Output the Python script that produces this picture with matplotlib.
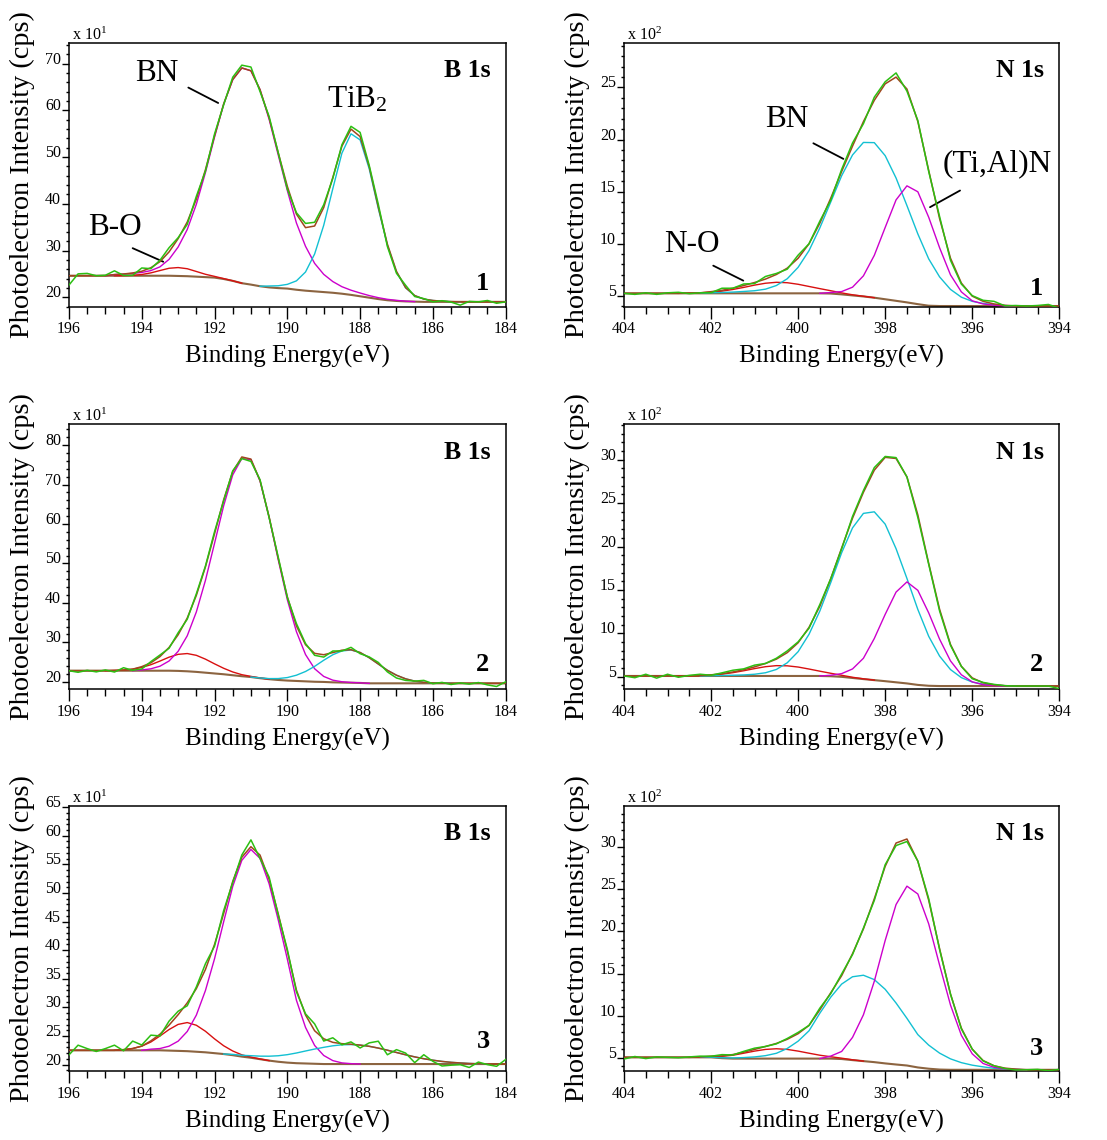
import numpy as np
import matplotlib
matplotlib.use("Agg")
import matplotlib.pyplot as plt
from matplotlib.ticker import MultipleLocator

plt.rcParams["font.family"] = "Liberation Serif"
plt.rcParams["mathtext.fontset"] = "custom"
plt.rcParams["mathtext.rm"] = "Liberation Serif"
plt.rcParams["mathtext.it"] = "Liberation Serif:italic"
plt.rcParams["mathtext.bf"] = "Liberation Serif:bold"

# binding energy sampling (eV), 0.25 eV steps
b_energy = np.linspace(196, 184, 49)
n_energy = np.linspace(404, 394, 41)

# ---------------- B 1s, sample 1 (x10 cps) ----------------
b1_bg = [24.6] * 12 + [24.55, 24.5, 24.4, 24.3, 24.2, 23.9, 23.5, 23.0, 22.7, 22.35, 22.1, 21.95,
                       21.85, 21.6, 21.4, 21.25, 21.1, 20.95, 20.75, 20.5, 20.2, 19.9, 19.6, 19.35,
                       19.2, 19.1, 19.05, 19.0] + [19.0] * 9
b1_bo = [0] * 6 + [0.02, 0.09, 0.26, 0.61, 1.11, 1.6, 1.8, 1.6, 1.11, 0.61, 0.26, 0.09, 0.02] + [0] * 30
b1_bn = [0] * 5 + [0.25, 0.35, 0.5, 0.7, 1.1, 1.9, 3.5, 6.2, 10.0, 15.5, 22.4, 30.1, 37.4, 43.1,
                   46.1, 45.8, 42.1, 36.0, 28.5, 21.0, 14.3, 9.5, 6.0, 3.8, 2.4, 1.5, 1.0, 0.7,
                   0.45, 0.3, 0.2, 0.12, 0.06] + [0] * 11
b1_tib2 = [0] * 22 + [0.3, 0.5, 0.9, 1.9, 4.0, 8.0, 14.3, 22.3, 30.1, 34.5, 33.5, 27.6, 19.4,
                      11.8, 6.2, 2.9, 1.3, 0.6, 0.3, 0.15, 0.05] + [0] * 6
b1_resid = [-2.0, 0.4, 0.5, 0.0, 0.1, 0.8, -0.3, -0.5, 0.7, -0.2, 0.3, 0.9, 0.2, -0.5, 0.6, -0.3,
            0.4, -0.2, 0.5, 0.6, 0.8, -0.4, 0.3, 0.0, -0.6, 0.3, 0.9, 0.8, 0.6, -0.2, 0.3, 0.6,
            0.9, 0.3, 0.6, -0.5, -0.4, 0.5, -0.2, 0.1, -0.3, 0.1, -0.1, -0.7, 0.1, 0.0, 0.3, -0.3, 0.0]

# ---------------- B 1s, sample 2 ----------------
b2_bg = [22.8] * 12 + [22.75, 22.65, 22.5, 22.3, 22.1, 21.9, 21.65, 21.4, 21.2, 20.9, 20.65, 20.45,
                       20.3, 20.2, 20.1, 20.0, 19.95, 19.85, 19.8, 19.75, 19.7] + [19.6] * 16
b2_bo = [0] * 5 + [0.06, 0.16, 0.39, 0.83, 1.52, 2.44, 3.43, 4.2, 4.5, 4.2, 3.43, 2.44, 1.52, 0.83,
                   0.39, 0.16, 0.06] + [0] * 27
b2_bn = [0] * 8 + [0.2, 0.48, 1.14, 2.46, 4.97, 9.0, 15.2, 23.4, 33.0, 42.7, 50.8, 55.2, 55.1, 50.0,
                   41.0, 30.5, 20.5, 12.5, 6.8, 3.3, 1.4, 0.55, 0.2, 0.07, 0.02] + [0] * 16
b2_tib2 = [0] * 21 + [0.06, 0.15, 0.36, 0.76, 1.46, 2.5, 3.9, 5.5, 7.0, 8.0, 8.3, 7.7, 6.5, 4.9,
                      3.3, 2.05, 1.14, 0.56, 0.25, 0.1, 0.04] + [0] * 7
b2_resid = [0.0, -0.4, 0.1, -0.3, 0.2, -0.4, 0.6, -0.3, -0.6, 0.3, 0.4, -0.2, 0.5, -0.3, 0.4, 0.2,
            0.5, -0.3, 0.2, -0.4, -0.6, 0.2, -0.2, 0.3, -0.2, 0.6, 0.3, -0.5, -0.6, 0.4, -0.2, 0.6,
            -0.3, 0.2, 0.4, -0.4, -0.7, -0.4, 0.0, 0.5, -0.2, 0.2, -0.3, 0.1, -0.2, 0.2, -0.4, -0.8, 0.4]

# ---------------- B 1s, sample 3 ----------------
b3_bg = [22.5] * 11 + [22.45, 22.4, 22.35, 22.25, 22.15, 22.0, 21.85, 21.65, 21.4, 21.2, 20.95,
                       20.7, 20.5, 20.35, 20.25, 20.2, 20.15] + [20.1] * 21
b3_bo = [0] * 6 + [0.12, 0.31, 0.73, 1.45, 2.5, 3.68, 4.63, 5.0, 4.63, 3.68, 2.5, 1.45, 0.73, 0.31,
                   0.12, 0.04] + [0] * 27
b3_bn = [0] * 9 + [0.2, 0.31, 0.77, 1.7, 3.44, 6.4, 10.8, 16.5, 23.1, 29.5, 34.3, 36.4, 35.1, 30.9,
                   24.8, 18.1, 11.0, 6.3, 3.2, 1.5, 0.6, 0.2, 0.07] + [0] * 17
b3_tib2 = [0] * 18 + [0.14, 0.23, 0.36, 0.53, 0.77, 1.05, 1.39, 1.78, 2.18, 2.57, 2.92, 3.19, 3.36,
                      3.4, 3.31, 3.1, 2.79, 2.42, 2.02, 1.62, 1.25, 0.93, 0.67, 0.46, 0.3, 0.19,
                      0.1, 0.05] + [0] * 3
b3_resid = [-0.8, 0.9, 0.3, -0.2, 0.3, 0.9, -0.2, 1.3, 0.2, 1.0, -0.3, 0.7, 0.6, -0.5, 0.3, 1.0,
            -0.3, 0.5, -0.2, 0.4, 1.2, -0.6, 0.4, -0.2, 0.3, -0.3, 0.2, 1.2, -0.4, 0.8, -0.2, 0.4,
            -0.5, 0.6, 1.2, -0.8, 0.5, 0.3, -1.0, 0.7, -0.2, -0.8, -0.5, -0.3, -0.7, 0.3, -0.1, -0.4, 0.8]

# ---------------- N 1s, sample 1 (x100 cps) ----------------
n1_bg = [5.22] * 19 + [5.2, 5.12, 5.02, 4.92, 4.8, 4.65, 4.5, 4.35, 4.18, 4.03] + [4.0] * 12
n1_no = [0] * 6 + [0.02, 0.05, 0.11, 0.21, 0.37, 0.57, 0.79, 0.97, 1.06, 1.02, 0.87, 0.66, 0.45,
                   0.27, 0.14, 0.06, 0.02] + [0] * 18
n1_bn = [0] * 8 + [0.05, 0.08, 0.12, 0.18, 0.25, 0.4, 0.75, 1.4, 2.5, 4.1, 6.3, 8.8, 11.4, 13.5,
                   14.8, 14.9, 13.8, 11.8, 9.3, 6.75, 4.5, 2.8, 1.6, 0.85, 0.45, 0.25, 0.12, 0.05] + [0] * 5
n1_tialn = [0] * 19 + [0.1, 0.27, 0.79, 1.98, 4.07, 6.9, 9.7, 11.2, 10.8, 8.5, 5.6, 3.0, 1.36, 0.5,
                       0.2, 0.08, 0.02] + [0] * 5
n1_resid = [0.0, -0.1, 0.05, -0.1, 0.05, 0.1, -0.05, 0.0, -0.1, 0.2, 0.0, 0.15, -0.1, 0.25, 0.1,
            -0.1, 0.3, 0.0, 0.2, -0.2, 0.2, 0.3, -0.2, 0.3, 0.2, 0.4, -0.2, 0.1, -0.1, 0.2, -0.2,
            -0.1, 0.05, 0.1, 0.25, -0.05, 0.05, 0.0, 0.05, 0.15, -0.2]

# ---------------- N 1s, sample 2 ----------------
n2_bg = [5.08] * 19 + [5.05, 4.98, 4.85, 4.72, 4.6, 4.48, 4.35, 4.22, 4.05, 3.95] + [3.92] * 12
n2_no = [0] * 6 + [0.02, 0.05, 0.1, 0.21, 0.38, 0.6, 0.85, 1.07, 1.19, 1.17, 1.03, 0.8, 0.55, 0.34,
                   0.18, 0.08, 0.03] + [0] * 18
n2_bn = [0] * 8 + [0.03, 0.05, 0.08, 0.12, 0.2, 0.37, 0.75, 1.52, 2.8, 4.8, 7.5, 10.8, 14.3, 17.3,
                   19.1, 19.4, 18.1, 15.4, 12.1, 8.7, 5.7, 3.45, 1.9, 0.97, 0.46, 0.22, 0.1, 0.04] + [0] * 5
n2_tialn = [0] * 19 + [0.11, 0.37, 1.04, 2.4, 4.8, 7.7, 10.4, 11.7, 10.9, 8.4, 5.4, 2.9, 1.3, 0.48,
                       0.15, 0.04] + [0] * 6
n2_resid = [0.0, -0.2, 0.2, -0.25, 0.2, -0.15, 0.05, 0.15, -0.05, 0.1, 0.2, 0.1, 0.2, 0.0, 0.1,
            0.2, 0.1, -0.1, 0.2, 0.0, -0.1, 0.2, 0.2, 0.3, 0.1, 0.1, 0.0, -0.3, -0.1, -0.2, -0.1,
            0.0, -0.1, 0.05, 0.05, 0.0, 0.0, 0.0, 0.0, 0.0, -0.3]

# ---------------- N 1s, sample 3 ----------------
n3_bg = [5.05] * 9 + [4.95] + [4.9] * 10 + [4.85, 4.72, 4.6, 4.48, 4.33, 4.2, 4.08, 3.85, 3.7,
                                            3.6] + [3.57] * 11
n3_no = [0] * 7 + [0.04, 0.1, 0.22, 0.4, 0.64, 0.89, 1.09, 1.17, 1.09, 0.89, 0.64, 0.4, 0.22, 0.1,
                   0.04] + [0] * 19
n3_bn = [0] * 8 + [0.03, 0.05, 0.08, 0.12, 0.2, 0.35, 0.63, 1.2, 2.07, 3.3, 5.4, 7.3, 8.9, 9.9,
                   10.2, 9.8, 8.8, 7.3, 5.6, 3.9, 2.8, 1.95, 1.3, 0.85, 0.55, 0.35, 0.18, 0.1, 0.05] + [0] * 4
n3_tialn = [0] * 19 + [0.3, 0.9, 2.7, 5.5, 9.6, 14.6, 19.0, 21.3, 20.6, 17.2, 12.4, 7.7, 4.1, 1.9,
                       0.75, 0.3, 0.1, 0.03] + [0] * 4
n3_resid = [-0.2, 0.1, -0.15, 0.05, 0.0, -0.05, 0.05, 0.1, 0.0, 0.15, -0.05, 0.1, 0.15, 0.0, -0.05,
            0.1, 0.15, 0.0, 0.2, -0.1, 0.2, -0.1, 0.1, -0.2, 0.2, -0.3, -0.3, 0.0, 0.2, -0.1, 0.0,
            -0.1, 0.0, -0.05, 0.0, -0.05, -0.1, 0.0, 0.05, -0.1, 0.05]

GREEN = "#2cbf12"
BROWN = "#a0461e"
BG_COLOR = "#8c6440"
RED = "#d81010"
MAGENTA = "#cc00cc"
CYAN = "#12c0d2"

panels = [
    dict(energy=b_energy, bg=b1_bg, comps=[(b1_bo, RED), (b1_bn, MAGENTA), (b1_tib2, CYAN)],
         resid=b1_resid, ylim=(18.0, 74.5), yticks=[20, 30, 40, 50, 60, 70], yminor=2,
         title="B 1s", sample="1", exp=1, sample_y=0.088),
    dict(energy=n_energy, bg=n1_bg, comps=[(n1_no, RED), (n1_bn, CYAN), (n1_tialn, MAGENTA)],
         resid=n1_resid, ylim=(3.95, 29.3), yticks=[5, 10, 15, 20, 25], yminor=1,
         title="N 1s", sample="1", exp=2, sample_y=0.068),
    dict(energy=b_energy, bg=b2_bg, comps=[(b2_bo, RED), (b2_bn, MAGENTA), (b2_tib2, CYAN)],
         resid=b2_resid, ylim=(18.1, 85.3), yticks=[20, 30, 40, 50, 60, 70, 80], yminor=2,
         title="B 1s", sample="2", exp=1, sample_y=0.092),
    dict(energy=n_energy, bg=n2_bg, comps=[(n2_no, RED), (n2_bn, CYAN), (n2_tialn, MAGENTA)],
         resid=n2_resid, ylim=(3.55, 34.1), yticks=[5, 10, 15, 20, 25, 30], yminor=1,
         title="N 1s", sample="2", exp=2, sample_y=0.095),
    dict(energy=b_energy, bg=b3_bg, comps=[(b3_bo, RED), (b3_bn, MAGENTA), (b3_tib2, CYAN)],
         resid=b3_resid, ylim=(18.8, 65.2), yticks=[20, 25, 30, 35, 40, 45, 50, 55, 60, 65], yminor=1,
         title="B 1s", sample="3", exp=1, sample_y=0.112),
    dict(energy=n_energy, bg=n3_bg, comps=[(n3_no, RED), (n3_bn, CYAN), (n3_tialn, MAGENTA)],
         resid=n3_resid, ylim=(3.37, 34.9), yticks=[5, 10, 15, 20, 25, 30], yminor=1,
         title="N 1s", sample="3", exp=2, sample_y=0.087),
]

# axes boxes in figure fractions
col_left = [0.0623, 0.5637]
col_width = [0.3945, 0.3932]
row_bottom = [0.7311, 0.3954, 0.0601]
row_height = [0.2314, 0.2325, 0.2329]

fig = plt.figure(figsize=(11.07, 11.40), dpi=100)
axes = []

for i, p in enumerate(panels):
    r, c = divmod(i, 2)
    ax = fig.add_axes([col_left[c], row_bottom[r], col_width[c], row_height[r]])
    axes.append(ax)

    energy = p["energy"]
    bg = np.asarray(p["bg"], float)
    env = bg.copy()
    ax.plot(energy, bg, color=BG_COLOR, lw=1.5, zorder=2)
    for net, color in p["comps"]:
        net = np.asarray(net, float)
        nz = np.nonzero(net)[0]
        lo, hi = max(nz[0] - 1, 0), min(nz[-1] + 2, len(net))
        ax.plot(energy[lo:hi], (bg + net)[lo:hi], color=color, lw=1.0, zorder=3)
        env = env + net
    ax.plot(energy, env, color=BROWN, lw=1.1, zorder=4)
    ax.plot(energy, env + np.asarray(p["resid"]), color=GREEN, lw=1.1, zorder=5)

    ax.set_xlim(energy[0], energy[-1])
    ax.set_ylim(*p["ylim"])
    ax.xaxis.set_major_locator(MultipleLocator(2))
    ax.xaxis.set_minor_locator(MultipleLocator(0.5))
    ax.set_yticks(p["yticks"])
    ax.yaxis.set_minor_locator(MultipleLocator(p["yminor"]))
    ax.xaxis.set_major_formatter(lambda v, pos: f"{v:.0f}")

    ax.tick_params(which="both", direction="out", top=False, right=False, width=1.0, labelsize=11.5)
    ax.tick_params(axis="x", which="major", length=8.4, pad=2)
    ax.tick_params(axis="x", which="minor", length=4.8)
    ax.tick_params(axis="y", which="major", length=5.4, pad=0.3)
    ax.tick_params(axis="y", which="minor", length=2.5)
    for t in ax.yaxis.get_major_ticks():
        t.label1.set_verticalalignment("baseline")
    for s in ax.spines.values():
        s.set_linewidth(1.1)

    ax.set_xlabel("Binding Energy(eV)", fontsize=18)
    ax.set_ylabel("Photoelectron Intensity (cps)", fontsize=20.3)
    ax.xaxis.set_label_coords(0.5, -0.145)
    ax.yaxis.set_label_coords(-0.078, 0.5)

    ax.text(0.007, 1.011, r"x 10$^{%d}$" % p["exp"], transform=ax.transAxes,
            fontsize=11.5, ha="left", va="baseline")
    ax.text(0.965, 0.895, p["title"], transform=ax.transAxes, fontsize=18.5,
            fontweight="bold", ha="right", va="center")
    ax.text(0.963, p["sample_y"], p["sample"], transform=ax.transAxes, fontsize=19,
            fontweight="bold", ha="right", va="center")

# peak assignments on the first row
line = dict(arrowstyle="-", color="black", lw=1.3, shrinkA=0, shrinkB=0)
ax = axes[0]
ax.text(193.58, 67.9, "BN", fontsize=22.5, ha="center", va="center")
ax.annotate("", xy=(191.9, 61.6), xytext=(192.72, 64.9), arrowprops=line)
ax.text(188.09, 62.2, r"TiB$_2$", fontsize=22.5, ha="center", va="center")
ax.text(194.74, 35.0, "B-O", fontsize=22.5, ha="center", va="center")
ax.annotate("", xy=(193.41, 27.6), xytext=(194.25, 30.5), arrowprops=line)

ax = axes[1]
ax.text(400.27, 21.9, "BN", fontsize=22.5, ha="center", va="center")
ax.annotate("", xy=(398.96, 18.14), xytext=(399.65, 19.64), arrowprops=line)
ax.text(395.42, 17.7, "(Ti,Al)N", fontsize=22.5, ha="center", va="center")
ax.annotate("", xy=(396.97, 13.5), xytext=(396.28, 15.1), arrowprops=line)
ax.text(402.43, 9.9, "N-O", fontsize=22.5, ha="center", va="center")
ax.annotate("", xy=(401.26, 6.44), xytext=(401.95, 7.88), arrowprops=line)

fig.savefig("out.png", dpi=100)
